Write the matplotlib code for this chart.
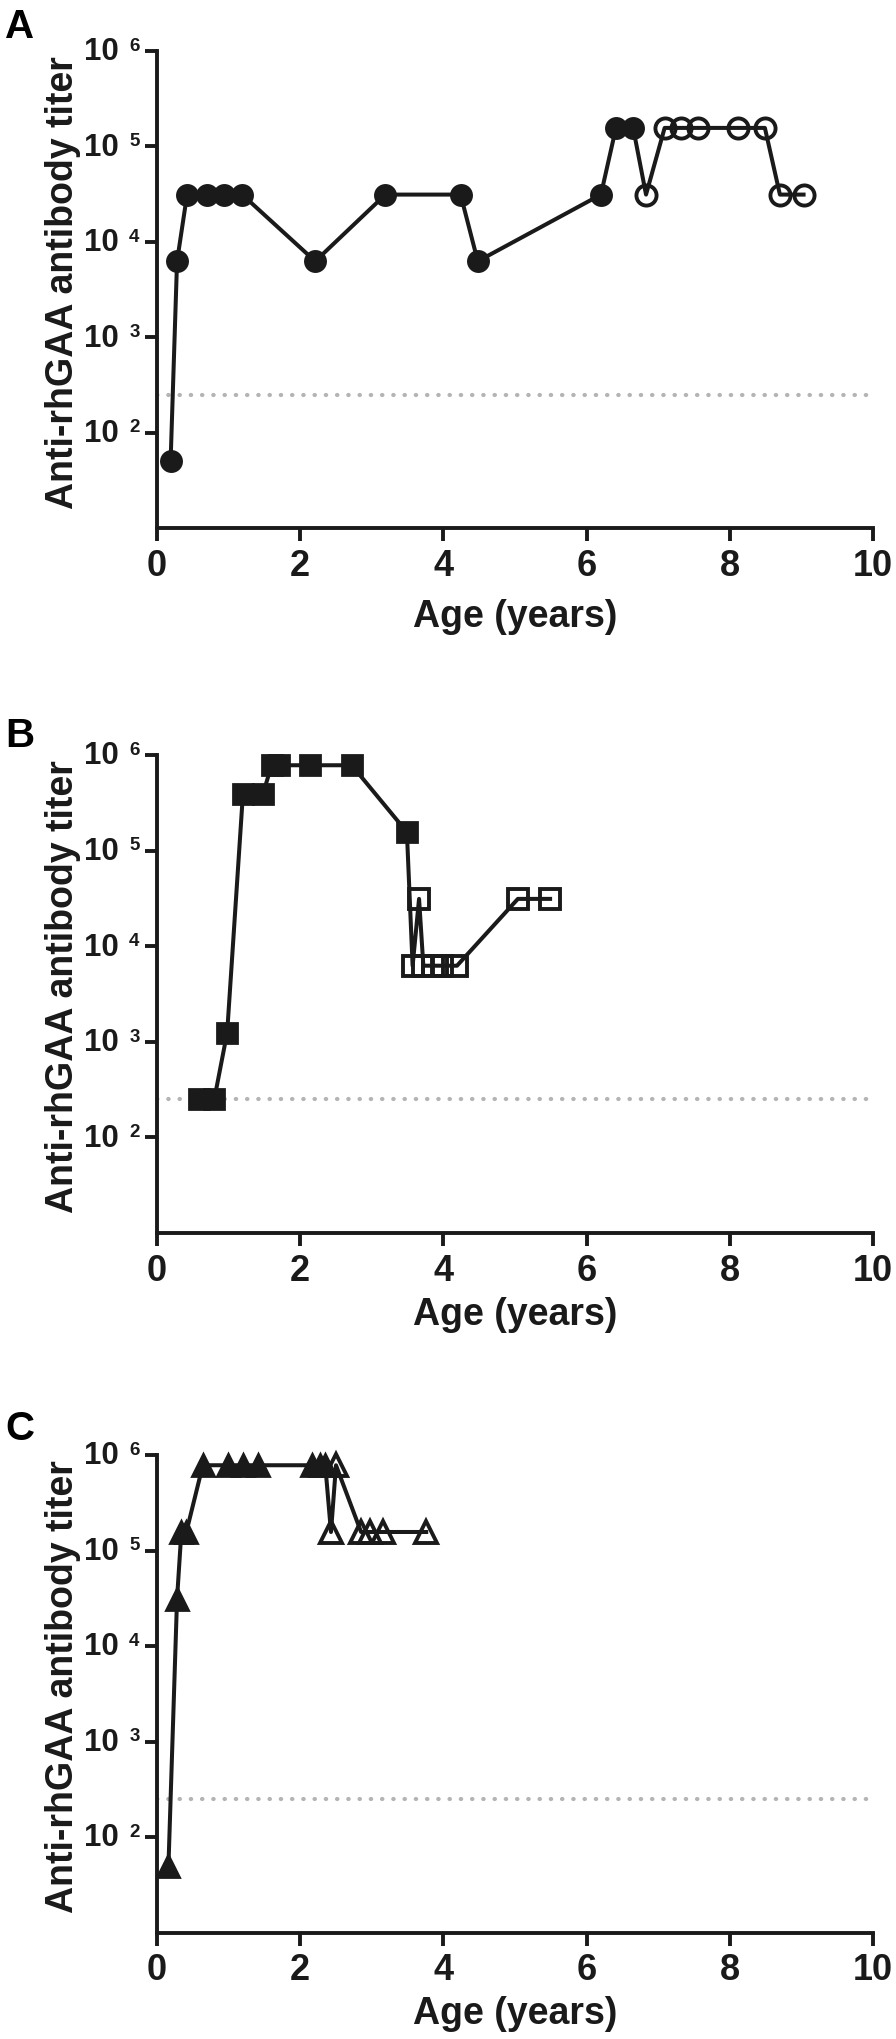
import numpy as np
import matplotlib
matplotlib.use("Agg")
import matplotlib.pyplot as plt
from matplotlib.ticker import FixedLocator, NullLocator, NullFormatter

plt.rcParams["font.family"] = ["Liberation Sans", "DejaVu Sans"]
plt.rcParams["font.weight"] = "bold"

# panel A - circles
a_age_filled = [0.19, 0.28, 0.42, 0.70, 0.93, 1.19, 2.21, 3.19, 4.24, 4.48, 6.20, 6.41, 6.65]
a_titer_filled = [50, 6250, 31250, 31250, 31250, 31250, 6250, 31250, 31250, 6250, 31250, 156250, 156250]
a_age_open = [6.83, 7.09, 7.32, 7.56, 8.12, 8.49, 8.70, 9.03]
a_titer_open = [31250, 156250, 156250, 156250, 156250, 156250, 31250, 31250]

# panel B - squares
b_age_filled = [0.59, 0.80, 0.98, 1.20, 1.48, 1.60, 1.71, 2.14, 2.72, 3.49]
b_titer_filled = [250, 250, 1250, 390625, 390625, 781250, 781250, 781250, 781250, 156250]
b_age_open = [3.57, 3.66, 3.72, 3.85, 3.98, 4.19, 5.04, 5.49]
b_titer_open = [6250, 31250, 6250, 6250, 6250, 6250, 31250, 31250]

# panel C - triangles
c_age_filled = [0.16, 0.28, 0.34, 0.41, 0.64, 0.99, 1.20, 1.41, 2.16, 2.27, 2.35]
c_titer_filled = [50, 31250, 156250, 156250, 781250, 781250, 781250, 781250, 781250, 781250, 781250]
c_age_open = [2.43, 2.50, 2.85, 2.97, 3.15, 3.76]
c_titer_open = [156250, 781250, 156250, 156250, 156250, 156250]

cutoff = 250
x_ticks = [0, 2, 4, 6, 8, 10]
y_exponents = [2, 3, 4, 5, 6]

W, H = 896, 2039
INK = "#1a1a1a"

PANELS = [
    ("A", a_age_filled, a_titer_filled, a_age_open, a_titer_open, "o", 14.5, 51, 528, 8, -0.187),
    ("B", b_age_filled, b_titer_filled, b_age_open, b_titer_open, "s", 14.5, 755, 1233, 717, -0.172),
    ("C", c_age_filled, c_titer_filled, c_age_open, c_titer_open, "^", 15.5, 1455, 1932.5, 1410, -0.171),
]

fig = plt.figure(figsize=(W / 100, H / 100), dpi=100)

for letter, xf, yf, xo, yo, mk, ms, top, bottom, letter_y, xlab_y in PANELS:
    ax = fig.add_axes([157 / W, 1 - bottom / H, 716 / W, (bottom - top) / H])

    ax.axhline(cutoff, color="#b4b4b4", lw=3, linestyle=(0, (0.1, 2.6)),
               dash_capstyle="round", zorder=1)

    ages = list(xf) + list(xo)
    titers = list(yf) + list(yo)
    ax.plot(ages, titers, color=INK, lw=2.9, zorder=2)
    ax.plot(xf, yf, linestyle="none", marker=mk, markersize=ms,
            color=INK, markeredgewidth=2, zorder=3, clip_on=False)
    ax.plot(xo, yo, linestyle="none", marker=mk, markersize=ms,
            markerfacecolor="none", markeredgecolor=INK,
            markeredgewidth=2.8, zorder=3, clip_on=False)

    ax.set_yscale("log")
    ax.set_ylim(10, 1e6)
    ax.set_xlim(0, 10)
    yt = [10.0 ** e for e in y_exponents]
    ax.yaxis.set_major_locator(FixedLocator(yt))
    ax.yaxis.set_minor_locator(NullLocator())
    ax.yaxis.set_major_formatter(NullFormatter())
    ax.set_xticks(x_ticks)

    for s in ["top", "right"]:
        ax.spines[s].set_visible(False)
    for s in ["left", "bottom"]:
        ax.spines[s].set_linewidth(2.8)
        ax.spines[s].set_color(INK)
    ax.tick_params(axis="both", length=9, width=2.8, color=INK,
                   labelsize=26, labelcolor=INK)
    ax.tick_params(axis="x", pad=6)

    # y tick labels: "10" with a small raised exponent
    for e, v in zip(y_exponents, yt):
        ax.annotate("10", xy=(0, v), xycoords=("axes fraction", "data"),
                    xytext=(-27.5, -1), textcoords="offset points",
                    ha="right", va="center", fontsize=22.5,
                    fontweight="bold", color=INK)
        ax.annotate(str(e), xy=(0, v), xycoords=("axes fraction", "data"),
                    xytext=(-20, 9.5), textcoords="offset points",
                    ha="left", va="top", fontsize=13.5,
                    fontweight="bold", color=INK)

    ax.text(-0.131, 0.515, "Anti-rhGAA antibody titer", rotation=90,
            transform=ax.transAxes, ha="center", va="center",
            fontsize=27, fontweight="bold", color=INK)
    ax.text(0.5, xlab_y, "Age (years)", transform=ax.transAxes,
            ha="center", va="center", fontsize=27,
            fontweight="bold", color=INK)

    fig.text(5 / W, 1 - letter_y / H, letter, ha="left", va="top",
             fontsize=29, fontweight="bold", color="black")

fig.savefig("out.png", dpi=100)
